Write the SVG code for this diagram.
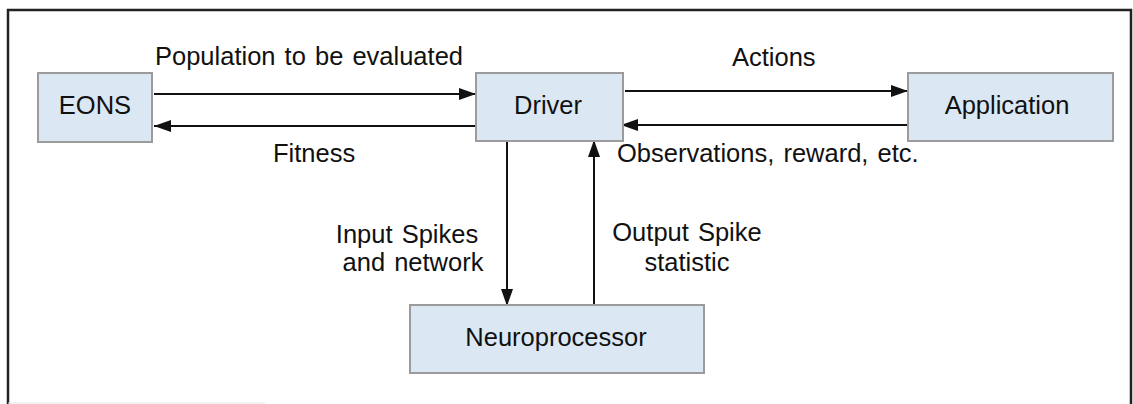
<svg xmlns="http://www.w3.org/2000/svg" width="1133" height="404" viewBox="0 0 1133 404">
<style>
.box{fill:#dbe8f4;stroke:#9b9b9b;stroke-width:2}
.lbl{font-family:"Liberation Sans",Arial,sans-serif;font-size:25.5px;fill:#111;word-spacing:2px}
.c{text-anchor:middle}
.conn{stroke:#111;stroke-width:2;fill:none}
</style>
<defs>
<marker id="ah" markerUnits="userSpaceOnUse" markerWidth="18" markerHeight="12" refX="17" refY="6" orient="auto">
<path d="M0,0 L17,6 L0,12 z" fill="#111"/>
</marker>
</defs>
<rect width="1133" height="404" fill="#fff"/>
<path d="M8,404 V10 H1131 V404" fill="none" stroke="#222" stroke-width="2.5"/>
<line x1="8" y1="403" x2="265" y2="403" stroke="#e4e4e4" stroke-width="1"/>
<g id="connectors">
<line class="conn" x1="154" y1="94" x2="476" y2="94" marker-end="url(#ah)"/>
<line class="conn" x1="476" y1="126" x2="154" y2="126" marker-end="url(#ah)"/>
<line class="conn" x1="625" y1="91" x2="908" y2="91" marker-end="url(#ah)"/>
<line class="conn" x1="908" y1="125" x2="621" y2="125" marker-end="url(#ah)"/>
<line class="conn" x1="507" y1="142" x2="507" y2="306" marker-end="url(#ah)"/>
<line class="conn" x1="594" y1="305" x2="594" y2="140" marker-end="url(#ah)"/>
<text class="lbl" x="155" y="65">Population to be evaluated</text>
<text class="lbl" x="273" y="162">Fitness</text>
<text class="lbl" x="732" y="66">Actions</text>
<text class="lbl" x="617" y="162">Observations, reward, etc.</text>
<text class="lbl c" x="407" y="243">Input Spikes</text>
<text class="lbl c" x="413" y="271">and network</text>
<text class="lbl c" x="687" y="241">Output Spike</text>
<text class="lbl c" x="687" y="271">statistic</text>
</g>
<g id="eons">
<rect class="box" x="38" y="73" width="114" height="69"/>
<text class="lbl c" x="95" y="114">EONS</text>
</g>
<g id="driver">
<rect class="box" x="476" y="73" width="147" height="68"/>
<text class="lbl c" x="548" y="114">Driver</text>
</g>
<g id="application">
<rect class="box" x="908" y="73" width="205" height="68"/>
<text class="lbl c" x="1007" y="114">Application</text>
</g>
<g id="neuroprocessor">
<rect class="box" x="410" y="305" width="294" height="68"/>
<text class="lbl c" x="556" y="346">Neuroprocessor</text>
</g>
</svg>
